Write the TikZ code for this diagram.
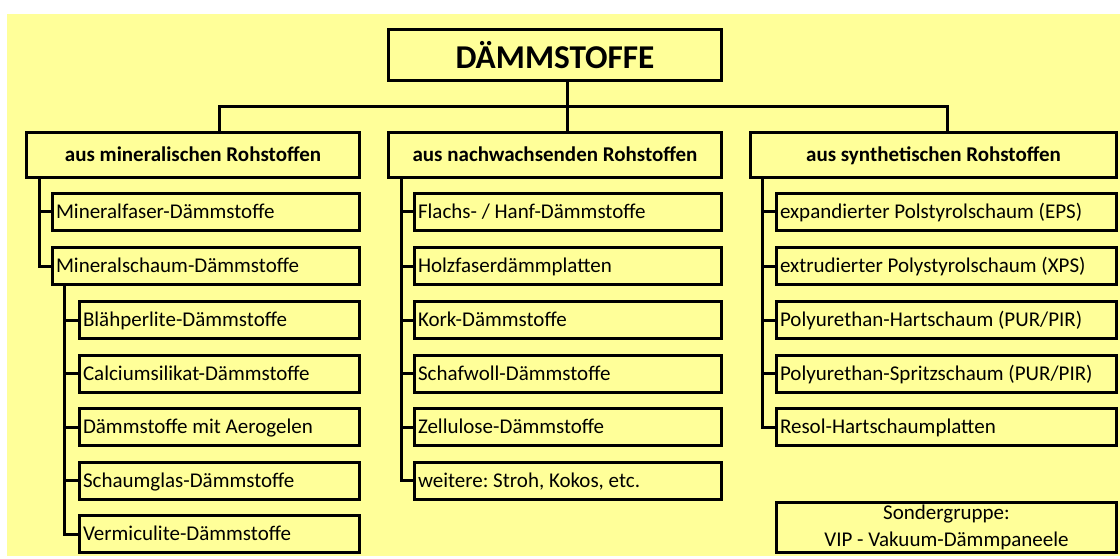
\documentclass[tikz,border=0pt]{standalone}
\usepackage{fontspec}
\setmainfont{Carlito}
\definecolor{bgy}{RGB}{255,255,153}
\begin{document}
\frenchspacing
\begin{tikzpicture}[x=1pt,y=-1pt,
  box/.style={draw, line width=3pt, fill=bgy, inner sep=0pt},
  item/.style={box, inner xsep=3.5pt, minimum height=37pt, text width=#1, align=flush left,
    font=\fontsize{21}{25}\selectfont, text height=13.5pt, text depth=0pt},
  cat/.style={box, minimum height=45pt, minimum width=#1, align=center,
    font=\fontsize{21}{25}\selectfont\bfseries, text height=13.5pt, text depth=0pt},
  conn/.style={line width=3pt, line cap=rect}]
\useasboundingbox (0,0) rectangle (1120,559);
\fill[white] (0,0) rectangle (1120,559);
\fill[bgy] (7,14) rectangle (1120,556);

% title and categories
\node[box, minimum width=333pt, minimum height=51pt, font=\fontsize{33.3}{38}\selectfont\bfseries] (title) at (555,55) {DÄMMSTOFFE};
\node[cat=333pt] (cL) at (193,155) {aus mineralischen Rohstoffen};
\node[cat=333pt] (cM) at (555,155) {aus nachwachsenden Rohstoffen};
\node[cat=366pt] (cR) at (933.5,155) {aus synthetischen Rohstoffen};

% left column
\node[item=300pt] (m1) at (206,212) {Mineralfaser-Dämmstoffe};
\node[item=300pt] (m2) at (206,266) {Mineralschaum-Dämmstoffe};
\node[item=273pt] (s1) at (219.5,320) {Blähperlite-Dämmstoffe};
\node[item=273pt] (s2) at (219.5,373.5) {Calciumsilikat-Dämmstoffe};
\node[item=273pt] (s3) at (219.5,427) {Dämmstoffe mit Aerogelen};
\node[item=273pt] (s4) at (219.5,480.5) {Schaumglas-Dämmstoffe};
\node[item=273pt] (s5) at (219.5,534) {Vermiculite-Dämmstoffe};

% middle column
\node[item=300pt] (n1) at (568,212) {Flachs- / Hanf-Dämmstoffe};
\node[item=300pt] (n2) at (568,266) {Holzfaserdämmplatten};
\node[item=300pt] (n3) at (568,320) {Kork-Dämmstoffe};
\node[item=300pt] (n4) at (568,373.5) {Schafwoll-Dämmstoffe};
\node[item=300pt] (n5) at (568,427) {Zellulose-Dämmstoffe};
\node[item=300pt] (n6) at (568,480.5) {weitere: Stroh, Kokos, etc.};

% right column
\node[item=333pt] (r1) at (946.5,212) {expandierter Polstyrolschaum (EPS)};
\node[item=333pt] (r2) at (946.5,266) {extrudierter Polystyrolschaum (XPS)};
\node[item=333pt] (r3) at (946.5,320) {Polyurethan-Hartschaum (PUR/PIR)};
\node[item=333pt] (r4) at (946.5,373.5) {Polyurethan-Spritzschaum (PUR/PIR)};
\node[item=333pt] (r5) at (946.5,427) {Resol-Hartschaumplatten};

\node[box, minimum width=340pt, minimum height=50pt, align=center,
  font=\fontsize{21}{27}\selectfont] (sg) at (946.5,527) {Sondergruppe:\\VIP - Vakuum-Dämmpaneele};

% connector guide coordinates
\coordinate (bL) at (219,107);
\coordinate (bM) at (567,107);
\coordinate (bR) at (947,107);
\coordinate (vL) at (39,0);
\coordinate (vS) at (64,0);
\coordinate (vM) at (401,0);
\coordinate (vR) at (762,0);

% top tree
\draw[conn] (title.south -| bM) -- (bM);
\draw[conn] (cL.north -| bL) |- (bM) -| (cR.north -| bR);
\draw[conn] (bM) -- (cM.north -| bM);

% left
\draw[conn] (cL.south -| vL) |- (m2.west);
\draw[conn] (m1.west -| vL) -- (m1.west);
\draw[conn] (m2.south -| vS) |- (s5.west);
\foreach \n in {s1,s2,s3,s4} \draw[conn] (\n.west -| vS) -- (\n.west);

% middle
\draw[conn] (cM.south -| vM) |- (n6.west);
\foreach \n in {n1,n2,n3,n4,n5} \draw[conn] (\n.west -| vM) -- (\n.west);

% right
\draw[conn] (cR.south -| vR) |- (r5.west);
\foreach \n in {r1,r2,r3,r4} \draw[conn] (\n.west -| vR) -- (\n.west);
\end{tikzpicture}
\end{document}
